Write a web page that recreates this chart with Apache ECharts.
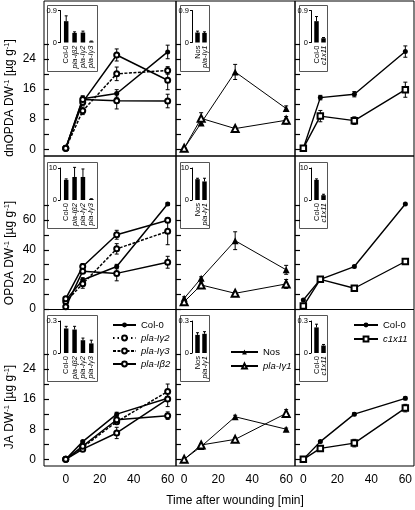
<!DOCTYPE html>
<html><head><meta charset="utf-8">
<script src="https://cdn.jsdelivr.net/npm/echarts@6/dist/echarts.min.js"></script>
<style>html,body{margin:0;padding:0;background:#fff}#c{width:415px;height:510px}</style>
</head><body><div id="c"></div><script>
// ---------- DATA ----------
const times = [0, 10, 30, 60];
const xTickLabels = [0, 20, 40, 60];
const dnTickLabels = [0, 8, 16, 24];
const dnTicks = [0, 4, 8, 12, 16, 20, 24, 28];
const opdaTickLabels = [0, 20, 40, 60];
const opdaTicks = [0, 10, 20, 30, 40, 50, 60, 70];
const jaTickLabels = [0, 8, 16, 24];
const jaTicks = [0, 4, 8, 12, 16, 20, 24, 28];

// dnOPDA (row 1)
const dnOPDA_Col0 = [0.3, 13.4, 14.8, 25.8], dnOPDA_Col0_err = [0.2, 0.6, 1.0, 1.8];
const dnOPDA_lg3 = [0.3, 10.2, 20.0, 20.9], dnOPDA_lg3_err = [0.2, 1.0, 1.8, 1.0];
const dnOPDA_lg2 = [0.3, 12.5, 25.0, 18.3], dnOPDA_lg2_err = [0.2, 0.8, 1.6, 2.5];
const dnOPDA_lb2 = [0.3, 13.2, 12.9, 12.8], dnOPDA_lb2_err = [0.2, 1.0, 2.2, 1.8];
const dnOPDA_Nos = [0.3, 7.0, 20.5, 10.8], dnOPDA_Nos_err = [0.1, 0.5, 2.0, 0.7];
const dnOPDA_lg1 = [0.3, 8.2, 5.5, 7.7], dnOPDA_lg1_err = [0.1, 1.5, 0.4, 1.0];
const dnOPDA_Col0b = [0.3, 13.7, 14.6, 25.9], dnOPDA_Col0b_err = [0.1, 0.6, 0.7, 1.5];
const dnOPDA_c1x11 = [0.3, 8.8, 7.6, 15.8], dnOPDA_c1x11_err = [0.1, 1.5, 1.0, 2.0];

// OPDA (row 2)
const OPDA_Col0 = [6.0, 19.6, 28.6, 70.7], OPDA_Col0_err = [1.0, 1.5, 1.5, 1.0];
const OPDA_lg3 = [5.0, 17.0, 40.5, 52.3], OPDA_lg3_err = [1.0, 3.0, 3.5, 9.0];
const OPDA_lg2 = [7.0, 28.6, 50.0, 59.7], OPDA_lg2_err = [1.0, 2.0, 3.0, 1.5];
const OPDA_lb2 = [1.5, 25.5, 24.0, 31.5], OPDA_lb2_err = [1.0, 1.5, 5.0, 4.0];
const OPDA_Nos = [7.2, 20.7, 46.0, 26.4], OPDA_Nos_err = [1.0, 1.0, 6.0, 3.0];
const OPDA_lg1 = [4.9, 16.2, 10.6, 16.9], OPDA_lg1_err = [1.0, 2.0, 1.0, 3.0];
const OPDA_Col0b = [6.1, 20.0, 28.6, 70.7], OPDA_Col0b_err = [0.5, 0.5, 0.8, 0.5];
const OPDA_c1x11 = [2.0, 20.0, 14.0, 32.0], OPDA_c1x11_err = [0.5, 0.5, 0.8, 0.8];

// JA (row 3)
const JA_Col0 = [0, 4.7, 12.0, 16.2], JA_Col0_err = [0.1, 0.3, 0.5, 0.5];
const JA_lg3 = [0, 3.2, 10.0, 18.0], JA_lg3_err = [0.1, 0.4, 0.6, 2.0];
const JA_lg2 = [0, 2.7, 7.0, 16.0], JA_lg2_err = [0.1, 0.4, 1.5, 2.0];
const JA_lb2 = [0, 3.5, 10.5, 11.6], JA_lb2_err = [0.1, 0.4, 0.8, 1.0];
const JA_Nos = [0, 3.4, 11.3, 8.0], JA_Nos_err = [0.1, 0.3, 0.4, 0.3];
const JA_lg1 = [0, 3.8, 5.3, 12.2], JA_lg1_err = [0.1, 0.3, 0.4, 1.0];
const JA_Col0b = [0, 4.7, 12.0, 16.2], JA_Col0b_err = [0.1, 0.3, 0.4, 0.4];
const JA_c1x11 = [0, 2.9, 4.3, 13.6], JA_c1x11_err = [0.1, 0.3, 1.0, 1.0];

// Insets (untreated levels)
const insetCats1 = ['Col-0', 'pla-Iβ2', 'pla-Iγ2', 'pla-Iγ3'];
const insetCats2 = ['Nos', 'pla-Iγ1'];
const insetCats3 = ['Col-0', 'c1x11'];
const insetMax = [0.9, 10, 0.3];
const inset_dnOPDA_1 = [0.6, 0.27, 0.28, 0.03], inset_dnOPDA_1_err = [0.15, 0.03, 0.04, 0.01];
const inset_dnOPDA_2 = [0.28, 0.27], inset_dnOPDA_2_err = [0.04, 0.03];
const inset_dnOPDA_3 = [0.6, 0.12], inset_dnOPDA_3_err = [0.13, 0.02];
const inset_OPDA_1 = [6.3, 7.2, 7.2, 0.3], inset_OPDA_1_err = [0.3, 3.0, 2.5, 0.1];
const inset_OPDA_2 = [6.5, 5.8], inset_OPDA_2_err = [0.3, 1.0];
const inset_OPDA_3 = [6.3, 1.5], inset_OPDA_3_err = [0.3, 0.3];
const inset_JA_1 = [0.23, 0.22, 0.12, 0.09], inset_JA_1_err = [0.02, 0.03, 0.02, 0.03];
const inset_JA_2 = [0.17, 0.18], inset_JA_2_err = [0.02, 0.02];
const inset_JA_3 = [0.24, 0.07], inset_JA_3_err = [0.03, 0.01];

// ---------- LAYOUT / STYLE ----------
const FONT = 'Liberation Sans, Arial, sans-serif';
const colL = [44, 176, 295], colW = [132, 119, 119];
const rowT = [1, 156, 309.5], rowH = [155, 153.5, 156.5];
const xRange = [[-12.8, 64.9], [-4.8, 65.2], [-4.9, 65.1]];
const yRange = [[-1.77, 39.3], [-0.3, 103], [-1.78, 39.8]];
const yTicks = [dnTicks, opdaTicks, jaTicks];
const yLabels = [dnTickLabels, opdaTickLabels, jaTickLabels];
const boxX = [[47, 50], [180, 29], [299, 28]];
const inGridX = [[62, 33.5], [194, 14], [313, 14]];
const boxTop = [3.5, 6, 5.5];
const lineW = [1.5, 1, 1.4];

const S = (name, v, e, sym, type) => ({name, v, e, sym, type: type || 'solid'});
const panels = [
  [
    [S('Col-0', dnOPDA_Col0, dnOPDA_Col0_err, 'circle'), S('pla-Iγ3', dnOPDA_lg3, dnOPDA_lg3_err, 'emptyCircle', [3, 1.5]),
     S('pla-Iγ2', dnOPDA_lg2, dnOPDA_lg2_err, 'emptyCircle'), S('pla-Iβ2', dnOPDA_lb2, dnOPDA_lb2_err, 'emptyCircle')],
    [S('Nos', dnOPDA_Nos, dnOPDA_Nos_err, 'triangle'), S('pla-Iγ1', dnOPDA_lg1, dnOPDA_lg1_err, 'emptyTriangle')],
    [S('Col-0', dnOPDA_Col0b, dnOPDA_Col0b_err, 'circle'), S('c1x11', dnOPDA_c1x11, dnOPDA_c1x11_err, 'emptyRect')]
  ],
  [
    [S('Col-0', OPDA_Col0, OPDA_Col0_err, 'circle'), S('pla-Iγ3', OPDA_lg3, OPDA_lg3_err, 'emptyCircle', [3, 1.5]),
     S('pla-Iγ2', OPDA_lg2, OPDA_lg2_err, 'emptyCircle'), S('pla-Iβ2', OPDA_lb2, OPDA_lb2_err, 'emptyCircle')],
    [S('Nos', OPDA_Nos, OPDA_Nos_err, 'triangle'), S('pla-Iγ1', OPDA_lg1, OPDA_lg1_err, 'emptyTriangle')],
    [S('Col-0', OPDA_Col0b, OPDA_Col0b_err, 'circle'), S('c1x11', OPDA_c1x11, OPDA_c1x11_err, 'emptyRect')]
  ],
  [
    [S('Col-0', JA_Col0, JA_Col0_err, 'circle'), S('pla-Iγ3', JA_lg3, JA_lg3_err, 'emptyCircle', [3, 1.5]),
     S('pla-Iγ2', JA_lg2, JA_lg2_err, 'emptyCircle'), S('pla-Iβ2', JA_lb2, JA_lb2_err, 'emptyCircle')],
    [S('Nos', JA_Nos, JA_Nos_err, 'triangle'), S('pla-Iγ1', JA_lg1, JA_lg1_err, 'emptyTriangle')],
    [S('Col-0', JA_Col0b, JA_Col0b_err, 'circle'), S('c1x11', JA_c1x11, JA_c1x11_err, 'emptyRect')]
  ]
];
const insets = [
  [[insetCats1, inset_dnOPDA_1, inset_dnOPDA_1_err], [insetCats2, inset_dnOPDA_2, inset_dnOPDA_2_err], [insetCats3, inset_dnOPDA_3, inset_dnOPDA_3_err]],
  [[insetCats1, inset_OPDA_1, inset_OPDA_1_err], [insetCats2, inset_OPDA_2, inset_OPDA_2_err], [insetCats3, inset_OPDA_3, inset_OPDA_3_err]],
  [[insetCats1, inset_JA_1, inset_JA_1_err], [insetCats2, inset_JA_2, inset_JA_2_err], [insetCats3, inset_JA_3, inset_JA_3_err]]
];

function errRender(upOnly, cap) {
  return function (params, api) {
    const x = api.value(0), y = api.value(1), e = api.value(2);
    const t = api.coord([x, y + e]);
    const b = api.coord([x, upOnly ? y : y - e]);
    const st = {stroke: '#000', lineWidth: 1};
    const ch = [
      {type: 'line', shape: {x1: t[0], y1: t[1], x2: b[0], y2: b[1]}, style: st},
      {type: 'line', shape: {x1: t[0] - cap, y1: t[1], x2: t[0] + cap, y2: t[1]}, style: st}
    ];
    if (!upOnly) ch.push({type: 'line', shape: {x1: b[0] - cap, y1: b[1], x2: b[0] + cap, y2: b[1]}, style: st});
    return {type: 'group', children: ch};
  };
}
// inward y-axis tick marks: y through the axis scale, x at the grid's left edge
function tickRender(params, api) {
  const p = api.coord([api.value(0), api.value(1)]);
  const cs = params.coordSys || {};
  const x0 = (typeof cs.x === 'number') ? cs.x : p[0];
  const y = Math.round(p[1]) + 0.5;
  return {type: 'line', shape: {x1: x0, y1: y, x2: x0 + 5, y2: y}, style: {stroke: '#000', lineWidth: 1.2}};
}

function symSize(sym) {
  if (sym.indexOf('riangle') >= 0) return 7;
  if (sym.indexOf('Rect') >= 0) return 5.5;
  return 5;
}

const grid = [], xAxis = [], yAxis = [], series = [], graphic = [];
for (let r = 0; r < 3; r++) {
  for (let c = 0; c < 3; c++) {
    const gi = r * 3 + c;
    grid.push({left: colL[c], top: rowT[r], width: colW[c], height: rowH[r], show: true,
      borderColor: '#000', borderWidth: 1, backgroundColor: 'transparent'});
    xAxis.push({type: 'value', gridIndex: gi, min: xRange[c][0], max: xRange[c][1],
      axisLine: {show: false, onZero: false}, splitLine: {show: false}, axisTick: {show: false},
      axisLabel: {show: r === 2, customValues: xTickLabels, margin: 8, fontSize: 12, color: '#000', fontFamily: FONT}});
    yAxis.push({type: 'value', gridIndex: gi, min: yRange[r][0], max: yRange[r][1], position: 'left',
      axisLine: {show: false, onZero: false}, splitLine: {show: false},
      axisTick: {show: false},
      axisLabel: {show: c === 0, customValues: yLabels[r], margin: 8, fontSize: 12, color: '#000', fontFamily: FONT}});
    series.push({type: 'custom', xAxisIndex: gi, yAxisIndex: gi, silent: true, z: 6,
      data: yTicks[r].map(v => [xRange[c][0], v]), encode: {x: 0, y: 1},
      renderItem: tickRender, animation: false});
    panels[r][c].forEach(s => {
      series.push({type: 'line', name: s.name, xAxisIndex: gi, yAxisIndex: gi,
        data: times.map((t, i) => [t, s.v[i]]), symbol: s.sym, symbolSize: symSize(s.sym),
        itemStyle: {color: '#000', borderWidth: 1.1}, lineStyle: {color: '#000', width: lineW[c], type: s.type},
        z: 3, animation: false});
      series.push({type: 'custom', xAxisIndex: gi, yAxisIndex: gi, silent: true, z: 2,
        data: times.map((t, i) => [t, s.v[i], s.e[i]]), encode: {x: 0, y: 1},
        renderItem: errRender(false, 2), animation: false});
    });
  }
}
// insets
for (let r = 0; r < 3; r++) {
  for (let c = 0; c < 3; c++) {
    const gi = 9 + r * 3 + c;
    const [cats, vals, errs] = insets[r][c];
    const bt = rowT[r] + boxTop[r];
    graphic.push({type: 'rect', shape: {x: boxX[c][0] + 0.5, y: Math.round(bt) + 0.5, width: boxX[c][1], height: 66},
      style: {fill: '#fff', stroke: '#555', lineWidth: 1}, z: 5});
    grid.push({left: inGridX[c][0], top: bt + 6, width: inGridX[c][1], height: 32});
    xAxis.push({type: 'category', gridIndex: gi, data: cats, z: 12,
      axisLine: {show: false, onZero: false}, axisTick: {show: false},
      axisLabel: {interval: 0, rotate: 90, margin: 3, fontSize: 7.5, color: '#000', fontFamily: FONT,
        formatter: v => (v === 'Col-0' || v === 'Nos') ? '{n|' + v + '}' : '{i|' + v + '}',
        rich: {n: {fontSize: 7.5, fontFamily: FONT}, i: {fontSize: 7.5, fontStyle: 'italic', fontFamily: FONT}}}});
    yAxis.push({type: 'value', gridIndex: gi, min: 0, max: insetMax[r], offset: 2, z: 12,
      axisLine: {show: true, onZero: false, lineStyle: {color: '#000', width: 1}}, splitLine: {show: false},
      axisTick: {show: true, length: 2, customValues: [0, insetMax[r]], lineStyle: {color: '#000'}},
      axisLabel: {customValues: [0, insetMax[r]], margin: 3, fontSize: 7.5, color: '#000', fontFamily: FONT}});
    series.push({type: 'bar', xAxisIndex: gi, yAxisIndex: gi, data: vals, barWidth: 4.5,
      itemStyle: {color: '#000'}, z: 10, animation: false, silent: true});
    series.push({type: 'custom', xAxisIndex: gi, yAxisIndex: gi, silent: true, z: 11,
      data: vals.map((v, i) => [i, v, errs[i]]), encode: {x: 0, y: 1},
      renderItem: errRender(true, 1.5), animation: false});
  }
}
// axis titles
const ytitles = [
  ['dnOPDA DW', 98], ['OPDA DW', 253], ['JA DW', 407]
];
ytitles.forEach(([t, y]) => {
  graphic.push({type: 'text', x: 10, y: y, rotation: Math.PI / 2, z: 20,
    style: {text: '{a|' + t + '}{s|-1}{a| [µg g}{s|-1}{a|]}', align: 'center', verticalAlign: 'middle', fill: '#000',
      rich: {a: {fontSize: 12, fontFamily: FONT, lineHeight: 14, verticalAlign: 'middle'},
             s: {fontSize: 7.5, fontFamily: FONT, lineHeight: 14, verticalAlign: 'top'}}}});
});
graphic.push({type: 'text', x: 235, y: 501, z: 20,
  style: {text: 'Time after wounding [min]', align: 'center', verticalAlign: 'middle', fill: '#000', fontSize: 12, fontFamily: FONT}});

const it = {fontStyle: 'italic'};
const legendBase = {orient: 'vertical', itemHeight: 6, itemGap: 3, selectedMode: false, padding: 0,
  textStyle: {fontSize: 9.5, color: '#000', fontFamily: FONT}};
const legend = [
  Object.assign({}, legendBase, {left: 112, top: 320, itemWidth: 23, data: [
    {name: 'Col-0'},
    {name: 'pla-Iγ2', textStyle: it, lineStyle: {type: [1.5, 3]}},
    {name: 'pla-Iγ3', textStyle: it},
    {name: 'pla-Iβ2', textStyle: it}]}),
  Object.assign({}, legendBase, {left: 230, top: 347, itemWidth: 27, itemGap: 4, data: [
    {name: 'Nos'}, {name: 'pla-Iγ1', textStyle: it}]}),
  Object.assign({}, legendBase, {left: 353, top: 320, itemWidth: 24, itemGap: 4, data: [
    {name: 'Col-0'}, {name: 'c1x11', textStyle: it}]})
];

const chart = echarts.init(document.getElementById('c'), null, {renderer: 'canvas'});
chart.setOption({animation: false, textStyle: {fontFamily: FONT}, grid, xAxis, yAxis, series, graphic, legend});
</script></body></html>
